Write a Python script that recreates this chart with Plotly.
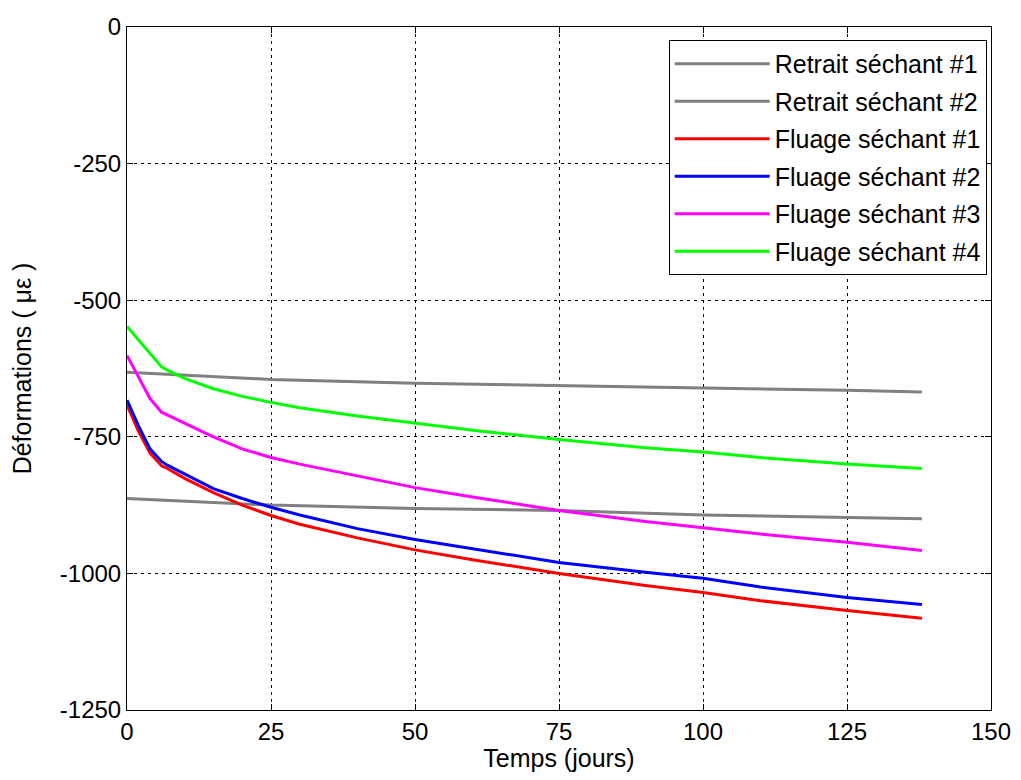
import plotly.graph_objects as go

days = [0, 2, 4, 6, 7, 10, 15, 20, 25, 30, 40, 50, 60, 75, 90, 100, 110, 125, 138]
fluage1 = [-692, -740, -780, -803, -808, -826, -852, -875, -894, -910, -935, -957, -975, -1000, -1022, -1035, -1050, -1068, -1082]
fluage2 = [-683, -730, -772, -795, -802, -818, -845, -863, -879, -893, -918, -938, -955, -980, -998, -1009, -1025, -1044, -1057]
fluage3 = [-601, -640, -680, -705, -710, -725, -750, -772, -788, -800, -822, -843, -860, -885, -905, -916, -928, -943, -958]
fluage4 = [-548, -572, -598, -622, -628, -643, -662, -676, -687, -697, -712, -725, -738, -755, -770, -778, -788, -800, -808]

retrait_days = [0, 25, 50, 75, 100, 125, 138]
retrait1 = [-632, -645, -652, -656, -660, -665, -668]
retrait2 = [-863, -875, -881, -885, -893, -898, -900]

x_ticks = [0, 25, 50, 75, 100, 125, 150]
y_ticks = [0, -250, -500, -750, -1000, -1250]

series = [
    ("Retrait séchant #1", retrait_days, retrait1, "#808080"),
    ("Retrait séchant #2", retrait_days, retrait2, "#808080"),
    ("Fluage séchant #1", days, fluage1, "#ff0000"),
    ("Fluage séchant #2", days, fluage2, "#0000ff"),
    ("Fluage séchant #3", days, fluage3, "#ff00ff"),
    ("Fluage séchant #4", days, fluage4, "#00ff00"),
]

fig = go.Figure()
for i, (name, xs, ys, col) in enumerate(series):
    fig.add_trace(go.Scatter(x=xs, y=ys, mode="lines", name=name,
                             legendgroup=f"g{i}",
                             line=dict(color=col, width=3)))

tick_font = dict(family="Liberation Sans, Arial, sans-serif", size=24, color="black")
title_font = dict(family="Liberation Sans, Arial, sans-serif", size=25, color="black")
axis_common = dict(showline=True, linecolor="black", linewidth=1, mirror="ticks",
                   ticks="inside", ticklen=6, tickcolor="black",
                   showgrid=True, gridcolor="black", gridwidth=1, griddash="3px,4px",
                   zeroline=False, tickfont=tick_font, automargin=False)

fig.update_layout(
    width=1005, height=764,
    paper_bgcolor="white", plot_bgcolor="white",
    margin=dict(l=119, r=22, t=19, b=62),
    font=tick_font,
    xaxis=dict(range=[0, 150], tickvals=x_ticks, ticktext=[str(v) for v in x_ticks],
               title=dict(text="Temps (jours)", font=title_font, standoff=5), **axis_common),
    yaxis=dict(range=[-1250, 0], tickvals=y_ticks, ticktext=[str(v) for v in y_ticks],
               title=dict(text="Déformations ( με )", font=title_font, standoff=22), **axis_common),
    legend=dict(x=0.995, y=0.981, xanchor="right", yanchor="top",
                bgcolor="white", bordercolor="black", borderwidth=1,
                font=title_font, tracegroupgap=2, traceorder="grouped",
                itemwidth=95),
    showlegend=True,
)

fig.write_html("out.html")
